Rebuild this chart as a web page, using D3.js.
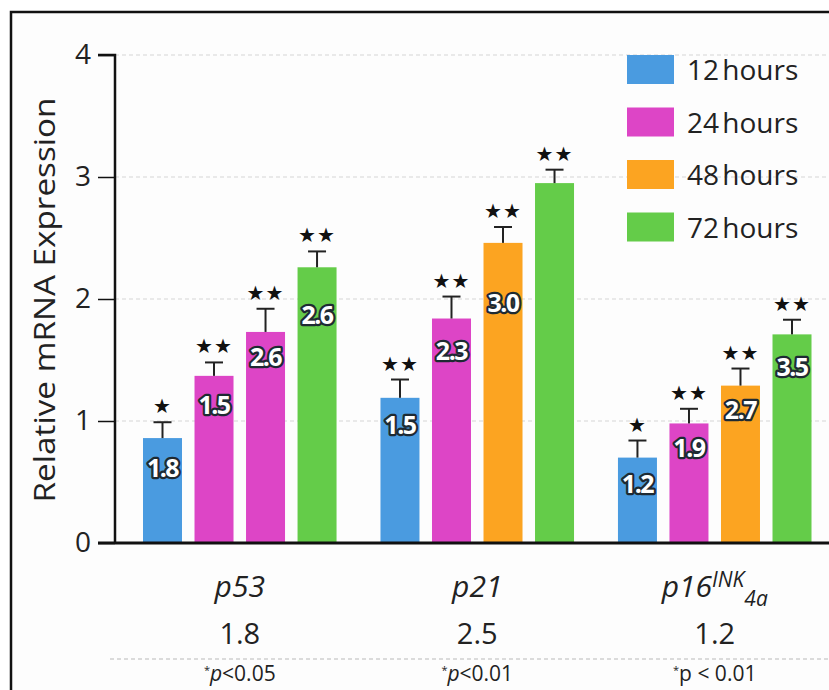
<!DOCTYPE html>
<html>
<head>
<meta charset="utf-8">
<script src="https://cdn.jsdelivr.net/npm/d3@7"></script>
<style>
  body { margin: 0; background: #fff; }
  svg { display: block; font-family: "Open Sans", "Noto Sans", sans-serif; }
</style>
</head>
<body>
<svg id="chart" width="829" height="690"></svg>
<script>
// data
var genes = ["p53", "p21", "p16"];
var series = ["12 hours", "24 hours", "48 hours", "72 hours"];
var colors = ["#4a9be0", "#dd45c6", "#fca421", "#64cc49"];

var p53Values = [0.86, 1.37, 1.73, 2.26];
var p21Values = [1.19, 1.84, 2.46, 2.95];
var p16Values = [0.70, 0.98, 1.29, 1.71];

var p53Err = [0.13, 0.11, 0.19, 0.13];
var p21Err = [0.15, 0.18, 0.13, 0.11];
var p16Err = [0.14, 0.12, 0.14, 0.12];

// colour used by each bar (third p53 bar is drawn magenta in the source)
var p53Series = [0, 1, 1, 3];
var p21Series = [0, 1, 2, 3];
var p16Series = [0, 1, 2, 3];

var p53Labels = ["1.8", "1.5", "2.6", "2.6"];
var p21Labels = ["1.5", "2.3", "3.0", ""];
var p16Labels = ["1.2", "1.9", "2.7", "3.5"];

var p53Stars = [1, 2, 2, 2];
var p21Stars = [2, 2, 2, 2];
var p16Stars = [1, 2, 2, 2];

var foldChange = ["1.8", "2.5", "1.2"];
var pValues = ["p<0.05", "p<0.01", "p < 0.01"];
var yTicks = [0, 1, 2, 3, 4];

// label offsets below bar tops (px), layout only
var labelDy = [[30, 29, 25, 48], [27, 32, 60, 0], [26, 25, 24, 33]];

var rows = [
  { gene: "p53", values: p53Values, err: p53Err, ser: p53Series, labels: p53Labels, stars: p53Stars },
  { gene: "p21", values: p21Values, err: p21Err, ser: p21Series, labels: p21Labels, stars: p21Stars },
  { gene: "p16", values: p16Values, err: p16Err, ser: p16Series, labels: p16Labels, stars: p16Stars }
];

var svg = d3.select("#chart");

// frame
svg.append("rect")
    .attr("x", 11).attr("y", 12)
    .attr("width", 840).attr("height", 700)
    .attr("fill", "#fdfdfd")
    .attr("stroke", "#111").attr("stroke-width", 2.5);

var axisX = 115, plotRight = 829;
var y = d3.scaleLinear().domain([0, 4]).range([543, 55]);

var x0 = d3.scaleBand().domain(genes).range([143, 811.5]).paddingInner(0.185).paddingOuter(0);
var x1 = d3.scaleBand().domain(d3.range(4)).range([0, x0.bandwidth()]).paddingInner(0.243).paddingOuter(0);

// grid
svg.append("g").selectAll("line")
    .data(yTicks.slice(1))
  .join("line")
    .attr("x1", axisX).attr("x2", plotRight)
    .attr("y1", d => y(d)).attr("y2", d => y(d))
    .attr("stroke", "#e2e2e2")
    .attr("stroke-width", 1.5)
    .attr("stroke-dasharray", "4,3");

// bars
var groups = svg.append("g").selectAll("g")
    .data(rows)
  .join("g")
    .attr("transform", d => "translate(" + x0(d.gene) + ",0)");

var bars = groups.selectAll("g")
    .data((d, gi) => d.values.map((v, i) => ({
        v: v, i: i, gi: gi, err: d.err[i], s: d.ser[i], label: d.labels[i], stars: d.stars[i]
    })))
  .join("g");

bars.append("rect")
    .attr("x", d => x1(d.i))
    .attr("width", x1.bandwidth())
    .attr("y", d => y(d.v))
    .attr("height", d => y(0) - y(d.v))
    .attr("fill", d => colors[d.s]);

// error bars
bars.append("line")
    .attr("x1", d => x1(d.i) + x1.bandwidth() / 2)
    .attr("x2", d => x1(d.i) + x1.bandwidth() / 2)
    .attr("y1", d => y(d.v))
    .attr("y2", d => y(d.v + d.err))
    .attr("stroke", "#222").attr("stroke-width", 2);
bars.append("line")
    .attr("x1", d => x1(d.i) + x1.bandwidth() / 2 - 9)
    .attr("x2", d => x1(d.i) + x1.bandwidth() / 2 + 9)
    .attr("y1", d => y(d.v + d.err))
    .attr("y2", d => y(d.v + d.err))
    .attr("stroke", "#222").attr("stroke-width", 2);

// stars
bars.append("text")
    .attr("x", d => x1(d.i) + x1.bandwidth() / 2)
    .attr("y", d => y(d.v + d.err) - 9)
    .attr("text-anchor", "middle")
    .style("font-family", "DejaVu Sans")
    .style("font-size", "20px")
    .style("fill", "#111")
    .style("letter-spacing", "1px")
    .text(d => d.stars === 2 ? "\u2605\u2605" : "\u2605");

// value labels inside bars
bars.filter(d => d.label !== "").append("text")
    .attr("x", d => x1(d.i) + x1.bandwidth() / 2)
    .attr("y", d => y(d.v) + labelDy[d.gi][d.i])
    .attr("dy", "0.36em")
    .attr("text-anchor", "middle")
    .style("font-size", "25px")
    .style("font-weight", "bold")
    .style("letter-spacing", "-1.5px")
    .style("fill", "#fff")
    .style("stroke", "#1e2a33")
    .style("stroke-width", 4.5)
    .style("stroke-linejoin", "round")
    .style("paint-order", "stroke")
    .text(d => d.label);

// y axis
var yAxis = svg.append("g")
    .attr("transform", "translate(" + axisX + ",0)")
    .call(d3.axisLeft(y).tickValues(yTicks).tickSize(17).tickPadding(7).tickFormat(d3.format("d")));
yAxis.select(".domain").attr("stroke", "#111").attr("stroke-width", 2.5).attr("d", "M-17," + y(4) + "H0V" + y(0));
yAxis.selectAll(".tick line").attr("stroke", "#111").attr("stroke-width", 1.5);
yAxis.selectAll(".tick text")
    .style("font-family", "Open Sans")
    .style("font-size", "28px")
    .style("fill", "#222");

// x axis line
svg.append("line")
    .attr("x1", axisX - 17).attr("x2", plotRight)
    .attr("y1", y(0)).attr("y2", y(0))
    .attr("stroke", "#111").attr("stroke-width", 3);

// y title
svg.append("text")
    .attr("transform", "translate(55," + 300 + ") rotate(-90)")
    .attr("text-anchor", "middle")
    .attr("textLength", 405)
    .attr("lengthAdjust", "spacingAndGlyphs")
    .style("font-size", "29px")
    .style("fill", "#222")
    .text("Relative mRNA Expression");

// gene labels
var geneText = svg.append("g").selectAll("text")
    .data(genes)
  .join("text")
    .attr("x", d => x0(d) + x0.bandwidth() / 2)
    .attr("y", 597)
    .attr("text-anchor", "middle")
    .style("font-size", "30px")
    .style("font-style", "italic")
    .style("fill", "#222");
geneText.filter(d => d !== "p16").text(d => d);
var p16 = geneText.filter(d => d === "p16");
p16.append("tspan").text("p16");
p16.append("tspan").attr("dy", -10).style("font-size", "21px").text("INK");
p16.append("tspan").attr("dy", 19).style("font-size", "21px").text("4a");

// fold change row
svg.append("g").selectAll("text")
    .data(foldChange)
  .join("text")
    .attr("x", (d, i) => x0(genes[i]) + x0.bandwidth() / 2)
    .attr("y", 644)
    .attr("text-anchor", "middle")
    .style("font-size", "29px")
    .style("fill", "#222")
    .text(d => d);

svg.append("line")
    .attr("x1", axisX - 5).attr("x2", plotRight)
    .attr("y1", 659).attr("y2", 659)
    .attr("stroke", "#cfcfcf").attr("stroke-width", 1.5)
    .attr("stroke-dasharray", "4,3");

// p-values
var pText = svg.append("g").selectAll("text")
    .data(pValues)
  .join("text")
    .attr("x", (d, i) => x0(genes[i]) + x0.bandwidth() / 2)
    .attr("y", 681)
    .attr("text-anchor", "middle")
    .style("font-size", "21px")
    .style("fill", "#222");
pText.append("tspan").attr("dy", -7).style("font-size", "11px").text("*");
pText.append("tspan").attr("dy", 7).style("font-style", (d, i) => i < 2 ? "italic" : "normal").text(d => d.slice(0, 1));
pText.append("tspan").text(d => d.slice(1));

// legend
var legend = svg.append("g").selectAll("g")
    .data(series)
  .join("g")
    .attr("transform", (d, i) => "translate(627," + (55 + i * 52.5) + ")");
legend.append("rect")
    .attr("width", 47).attr("height", 29)
    .attr("fill", (d, i) => colors[i]);
legend.append("text")
    .attr("x", 60).attr("y", 15)
    .attr("dy", "0.36em")
    .style("font-size", "28px")
    .style("word-spacing", "-4px")
    .style("fill", "#222")
    .text(d => d);
</script>
</body>
</html>
